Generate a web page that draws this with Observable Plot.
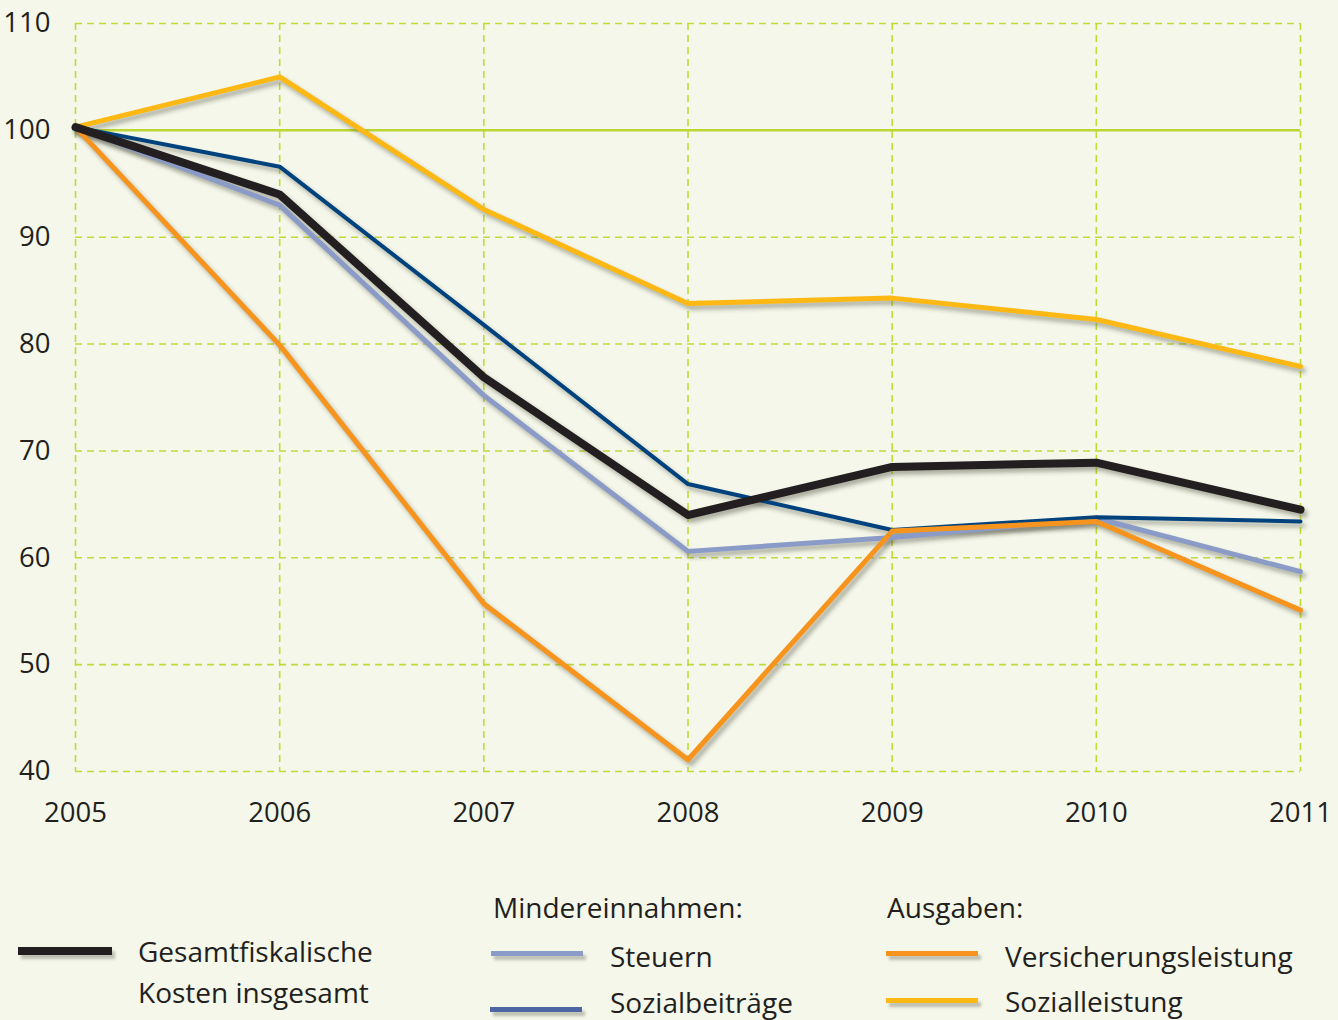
<!DOCTYPE html>
<html>
<head>
<meta charset="utf-8">
<script src="https://cdn.jsdelivr.net/npm/d3@7"></script>
<script src="https://cdn.jsdelivr.net/npm/@observablehq/plot@0.6"></script>
<style>
  html, body { margin: 0; padding: 0; background: #f4f7e9; }
  #wrap { position: relative; width: 1338px; height: 1020px; overflow: hidden; background: #f4f7e9;
          font-family: "Open Sans", sans-serif; color: #231f20; }
  #chart { position: absolute; left: 0; top: 0; }
  .lg { position: absolute; font-size: 28px; line-height: 28px; white-space: nowrap; color: #231f20; }
  .sw { position: absolute; box-shadow: 3px 4px 3px rgba(60,60,50,0.3); }
</style>
</head>
<body>
<div id="wrap">
  <div id="chart"></div>
  <div id="legend"></div>
</div>
<script>
const years = [2005, 2006, 2007, 2008, 2009, 2010, 2011];
const yTicks = [40, 50, 60, 70, 80, 90, 100, 110];
const gesamt          = [100.3, 94.0, 76.9, 64.0, 68.5, 68.9, 64.5];
const steuern         = [100.3, 93.0, 75.2, 60.6, 61.9, 63.7, 58.7];
const sozialbeitraege = [100.3, 96.6, 81.8, 66.9, 62.6, 63.8, 63.4];
const versicherung    = [100.3, 79.9, 55.7, 41.1, 62.5, 63.4, 55.1];
const sozialleistung  = [100.3, 105.0, 92.6, 83.8, 84.3, 82.3, 77.9];

const series = [
  {name: "Steuern", values: steuern, color: "#8a9bc7", width: 5},
  {name: "Sozialbeiträge", values: sozialbeitraege, color: "#00427d", width: 4},
  {name: "Versicherungsleistung", values: versicherung, color: "#f7941d", width: 5},
  {name: "Sozialleistung", values: sozialleistung, color: "#fdb813", width: 5},
  {name: "Gesamtfiskalische Kosten insgesamt", values: gesamt, color: "#231f20", width: 8}
];
const rowsOf = s => years.map((y, i) => ({year: y, value: s.values[i], series: s.name}));

const gridColor = "#c4da35";
const shadowColor = "#3d3d30";

const marks = [
  Plot.ruleY(yTicks.filter(d => d !== 100), {stroke: gridColor, strokeWidth: 1.6, strokeDasharray: "7,5"}),
  Plot.ruleX(years, {stroke: gridColor, strokeWidth: 1.6, strokeDasharray: "7,5"}),
  Plot.ruleY([100], {stroke: "#bcd633", strokeWidth: 2.5})
];
for (const s of series) {
  marks.push(Plot.line(rowsOf(s), {x: "year", y: "value", stroke: shadowColor, strokeOpacity: 0.4, strokeWidth: s.width, dx: 3, dy: 4}));
}
for (const s of series) {
  marks.push(Plot.line(rowsOf(s), {x: "year", y: "value", stroke: s.color, strokeWidth: s.width}));
}

const svg = Plot.plot({
  width: 1338,
  height: 850,
  marginLeft: 75,
  marginRight: 38,
  marginTop: 23,
  marginBottom: 79,
  style: {background: "transparent", color: "#231f20", fontFamily: "'Open Sans', sans-serif", fontSize: "27.5px"},
  x: {domain: [2005, 2011], ticks: years, tickFormat: "d", tickSize: 0, tickPadding: 31, label: null},
  y: {domain: [40, 110], ticks: yTicks, tickSize: 0, tickPadding: 25, label: null},
  marks
});

// blur filter for line shadows
const ns = "http://www.w3.org/2000/svg";
const defs = document.createElementNS(ns, "defs");
const filt = document.createElementNS(ns, "filter");
filt.setAttribute("id", "shadowBlur");
filt.setAttribute("x", "-10%"); filt.setAttribute("y", "-10%");
filt.setAttribute("width", "120%"); filt.setAttribute("height", "120%");
const blur = document.createElementNS(ns, "feGaussianBlur");
blur.setAttribute("stdDeviation", "2");
filt.appendChild(blur);
defs.appendChild(filt);
svg.insertBefore(defs, svg.firstChild);
svg.querySelectorAll(`g[stroke="${shadowColor}"]`).forEach(g => g.setAttribute("filter", "url(#shadowBlur)"));

document.getElementById("chart").appendChild(svg);

// legend
const legendItems = [
  {type: "line", left: 18, top: 947, w: 94, h: 8, color: "#231f20"},
  {type: "text", left: 138, top: 937, text: "Gesamtfiskalische"},
  {type: "text", left: 138, top: 978, text: "Kosten insgesamt"},
  {type: "text", left: 493, top: 893, text: "Mindereinnahmen:"},
  {type: "line", left: 491, top: 951, w: 92, h: 5, color: "#8a9bc7"},
  {type: "text", left: 610, top: 942, text: "Steuern"},
  {type: "line", left: 490, top: 1007, w: 92, h: 5, color: "#4b66a0"},
  {type: "text", left: 610, top: 988, text: "Sozialbeiträge"},
  {type: "text", left: 887, top: 893, text: "Ausgaben:"},
  {type: "line", left: 886, top: 951, w: 92, h: 5, color: "#f7941d"},
  {type: "text", left: 1005, top: 942, text: "Versicherungsleistung"},
  {type: "line", left: 886, top: 998, w: 92, h: 5, color: "#fdb813"},
  {type: "text", left: 1005, top: 987, text: "Sozialleistung"}
];
const legend = d3.select("#legend");
for (const it of legendItems) {
  if (it.type === "line") {
    legend.append("div").attr("class", "sw")
      .style("left", it.left + "px").style("top", it.top + "px")
      .style("width", it.w + "px").style("height", it.h + "px")
      .style("background", it.color);
  } else {
    legend.append("div").attr("class", "lg")
      .style("left", it.left + "px").style("top", it.top + "px")
      .text(it.text);
  }
}
</script>
</body>
</html>
